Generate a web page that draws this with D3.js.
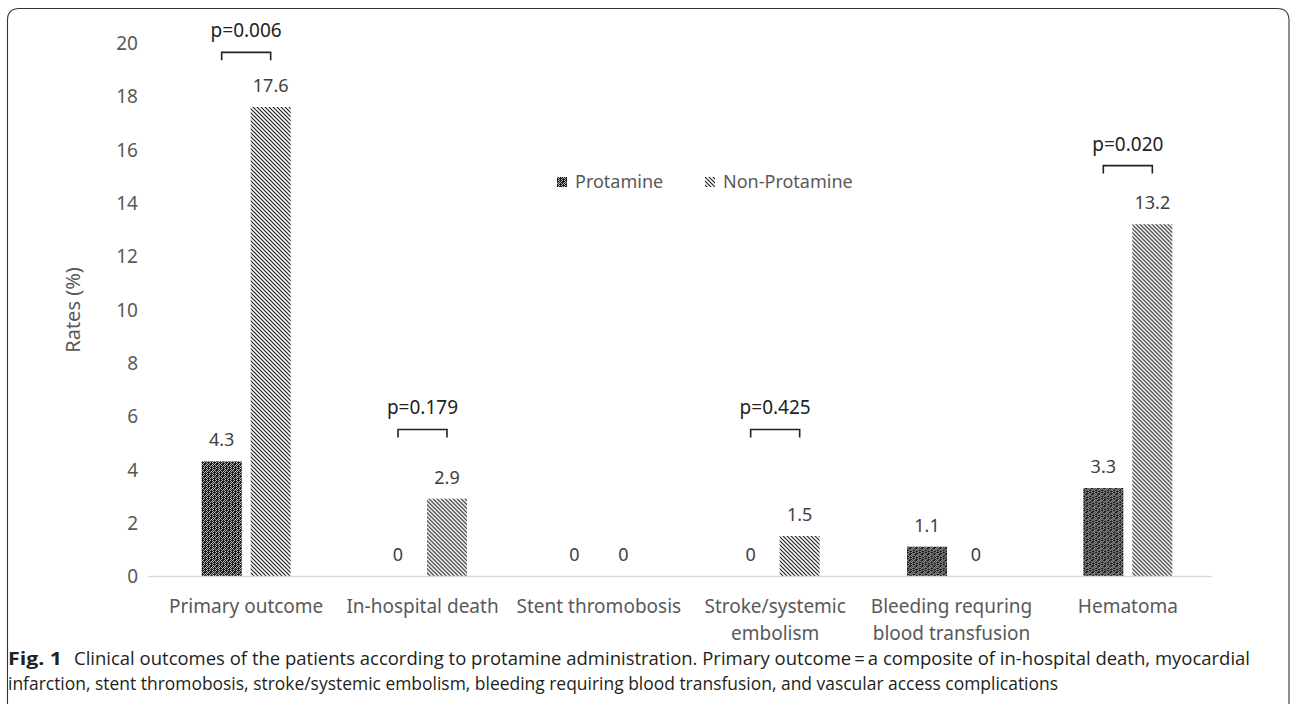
<!DOCTYPE html>
<html>
<head>
<meta charset="utf-8">
<script src="https://cdn.jsdelivr.net/npm/d3@7"></script>
<style>
  html, body { margin: 0; padding: 0; background: #fff; }
  svg { display: block; }
</style>
</head>
<body>
<svg id="chart" width="1292" height="704"></svg>
<script>
// ---- data ----
const categories = ["Primary outcome", "In-hospital death", "Stent thromobosis",
  "Stroke/systemic embolism", "Bleeding requring blood transfusion", "Hematoma"];
const categoryLines = [["Primary outcome"], ["In-hospital death"], ["Stent thromobosis"],
  ["Stroke/systemic", "embolism"], ["Bleeding requring", "blood transfusion"], ["Hematoma"]];
const seriesNames = ["Protamine", "Non-Protamine"];
const protamine = [4.3, 0, 0, 0, 1.1, 3.3];
const nonProtamine = [17.6, 2.9, 0, 1.5, 0, 13.2];
const yTicks = [0, 2, 4, 6, 8, 10, 12, 14, 16, 18, 20];
const pCategories = ["Primary outcome", "In-hospital death", "Stroke/systemic embolism", "Hematoma"];
const pLabels = ["p=0.006", "p=0.179", "p=0.425", "p=0.020"];
const pLevels = [19.65, 5.5, 5.5, 15.4];
const captionBold = "Fig. 1";
const captionLine1 = "Clinical outcomes of the patients according to protamine administration. Primary outcome\u2009=\u2009a composite of in-hospital death, myocardial";
const captionLine2 = "infarction, stent thromobosis, stroke/systemic embolism, bleeding requiring blood transfusion, and vascular access complications";

// ---- drawing ----
const svg = d3.select("#chart");
const font = "'Noto Sans', 'Open Sans', sans-serif";
const defs = svg.append("defs");

// Protamine pattern: dark checker with lighter dots
const p1 = defs.append("pattern").attr("id", "patProt").attr("patternUnits", "userSpaceOnUse")
  .attr("width", 6).attr("height", 6);
p1.append("rect").attr("width", 6).attr("height", 6).attr("fill", "#1a1a1a");
[[0,0],[2,0],[4,0],[1,1],[3,1],[5,1],[0,2],[2,2],[4,2],[1,3],[3,3],[5,3],[0,4],[2,4],[4,4],[1,5],[3,5],[5,5]]
  .forEach(([x, y], i) => { if ((x + y) % 4 === 0 || i % 3 === 0)
    p1.append("rect").attr("x", x).attr("y", y).attr("width", 1).attr("height", 1).attr("fill", "#bbb"); });
p1.append("rect").attr("x", 3).attr("y", 3).attr("width", 1).attr("height", 1).attr("fill", "#999");

// Non-Protamine pattern: dense diagonal lines (\\\)
const p2 = defs.append("pattern").attr("id", "patNon").attr("patternUnits", "userSpaceOnUse")
  .attr("width", 4).attr("height", 4);
p2.append("rect").attr("width", 4).attr("height", 4).attr("fill", "#fff");
p2.append("path").attr("d", "M-1,-1 L5,5 M-1,3 L1,5 M3,-1 L5,1")
  .attr("stroke", "#222").attr("stroke-width", 1.2);

const fills = { "Protamine": "url(#patProt)", "Non-Protamine": "url(#patNon)" };

// frame
svg.append("path")
  .attr("d", "M7.5,704 L7.5,20 Q7.5,8.5 19.5,8.5 L1277,8.5 Q1289,8.5 1289,20.5 L1289,704")
  .attr("fill", "none").attr("stroke", "#333").attr("stroke-width", 1.1);

const x = d3.scaleBand().domain(categories).range([158, 1216]).padding(0);
const half = 44.5;
const xs = d3.scaleBand().domain(seriesNames)
  .range([x.bandwidth() / 2 - half, x.bandwidth() / 2 + half]).paddingInner(9 / 49);
const y = d3.scaleLinear().domain([0, 20]).range([576, 43]);

// y axis ticks
const yAxis = d3.axisLeft(y).tickValues(yTicks).tickSize(0).tickPadding(0).tickFormat(d3.format("d"));
const gy = svg.append("g").attr("transform", "translate(138,0)").call(yAxis);
gy.select(".domain").remove();
gy.selectAll("text").attr("font-family", font).attr("font-size", 19).attr("fill", "#595959")
  .attr("dy", "0.35em");

// y title
svg.append("text").attr("transform", "translate(80,310) rotate(-90)")
  .attr("text-anchor", "middle").attr("font-family", font).attr("font-size", 20)
  .attr("fill", "#595959").text("Rates (%)");

// bars
const data = categories.map((c, i) => ({ cat: c, values: [
  { s: "Protamine", v: protamine[i] }, { s: "Non-Protamine", v: nonProtamine[i] }] }));
const groups = svg.append("g").selectAll("g").data(data).join("g")
  .attr("transform", d => `translate(${x(d.cat)},0)`);
groups.selectAll("rect").data(d => d.values).join("rect")
  .attr("x", d => xs(d.s)).attr("width", xs.bandwidth())
  .attr("y", d => y(d.v)).attr("height", d => y(0) - y(d.v))
  .attr("fill", d => fills[d.s]);
groups.selectAll("text.val").data(d => d.values).join("text").attr("class", "val")
  .attr("x", d => xs(d.s) + xs.bandwidth() / 2).attr("y", d => y(d.v) - 15)
  .attr("text-anchor", "middle").attr("font-family", font).attr("font-size", 18)
  .attr("fill", "#404040").text(d => d3.format("")(d.v));

// x axis line
svg.append("line").attr("x1", 148).attr("x2", 1212).attr("y1", 576.5).attr("y2", 576.5)
  .attr("stroke", "#d9d9d9").attr("stroke-width", 1.3);
const xAxis = d3.axisBottom(x).tickSize(0).tickFormat("");
const gx = svg.append("g").attr("transform", "translate(0,576)").call(xAxis);
gx.select(".domain").remove();
gx.selectAll(".tick").each(function(d) {
  const lines = categoryLines[categories.indexOf(d)];
  const t = d3.select(this).append("text").attr("text-anchor", "middle")
    .attr("font-family", font).attr("font-size", 19).attr("fill", "#595959");
  lines.forEach((l, i) => t.append("tspan").attr("x", 0).attr("y", 37 + i * 27).text(l));
});

// p-value brackets
pCategories.forEach((c, i) => {
  const x0 = x(c) + xs("Protamine") + xs.bandwidth() / 2;
  const x1 = x(c) + xs("Non-Protamine") + xs.bandwidth() / 2;
  const yy = y(pLevels[i]);
  svg.append("path").attr("d", `M${x0},${yy + 8} L${x0},${yy} L${x1},${yy} L${x1},${yy + 8}`)
    .attr("fill", "none").attr("stroke", "#222").attr("stroke-width", 1.6);
  svg.append("text").attr("x", (x0 + x1) / 2).attr("y", yy - 15).attr("text-anchor", "middle")
    .attr("font-family", font).attr("font-size", 19).attr("fill", "#222").text(pLabels[i]);
});

// legend
const legend = [{ s: "Protamine", x: 557 }, { s: "Non-Protamine", x: 705 }];
legend.forEach(l => {
  svg.append("rect").attr("x", l.x).attr("y", 177).attr("width", 10).attr("height", 10)
    .attr("fill", fills[l.s]);
  svg.append("text").attr("x", l.x + 18).attr("y", 188).attr("font-family", font)
    .attr("font-size", 18).attr("fill", "#595959").text(l.s);
});

// caption
const capFont = "'Open Sans', 'Noto Sans', sans-serif";
svg.append("text").attr("x", 8).attr("y", 665).attr("font-family", capFont).attr("font-weight", "bold")
  .attr("font-size", 18).attr("fill", "#231f20")
  .attr("textLength", 54).attr("lengthAdjust", "spacingAndGlyphs").text(captionBold);
svg.append("text").attr("x", 74).attr("y", 665).attr("font-family", capFont)
  .attr("font-size", 18).attr("fill", "#231f20")
  .attr("textLength", 1176).attr("lengthAdjust", "spacingAndGlyphs").text(captionLine1);
svg.append("text").attr("x", 8).attr("y", 690).attr("font-family", capFont)
  .attr("font-size", 18).attr("fill", "#231f20")
  .attr("textLength", 1050).attr("lengthAdjust", "spacingAndGlyphs").text(captionLine2);
</script>
</body>
</html>
